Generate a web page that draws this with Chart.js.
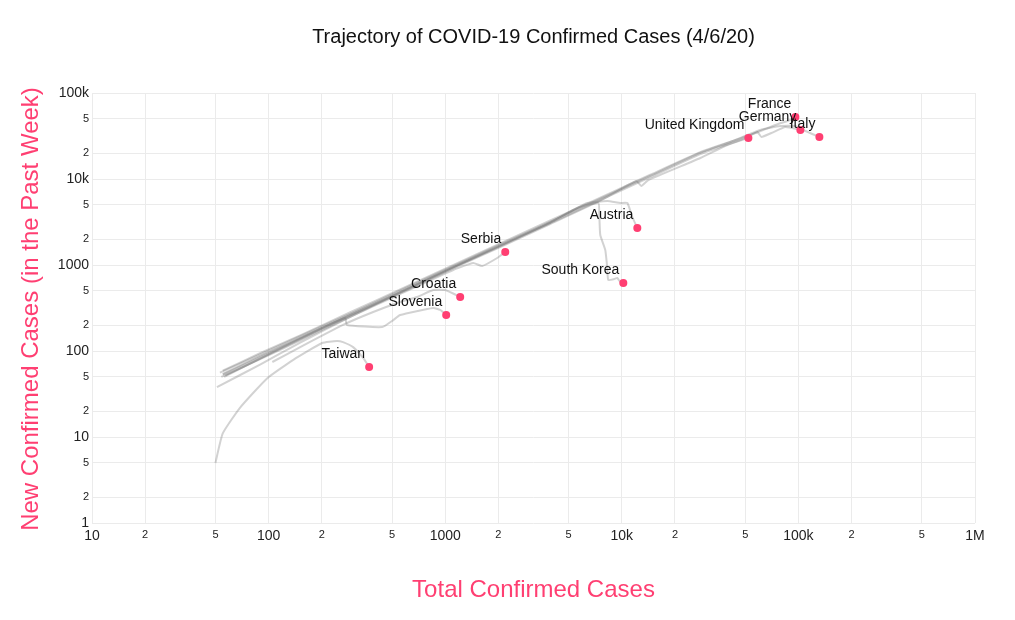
<!DOCTYPE html>
<html>
<head>
<meta charset="utf-8">
<script src="https://cdn.jsdelivr.net/npm/chart.js@4.4.1/dist/chart.umd.min.js"></script>
<style>
  html, body { margin: 0; padding: 0; background: #fff; }
  #wrap { width: 1015px; height: 620px; }
</style>
</head>
<body>
<div id="wrap"><canvas id="c" width="1015" height="620"></canvas></div>
<script>
const chartTitle = 'Trajectory of COVID-19 Confirmed Cases (4/6/20)';
const xAxisTitle = 'Total Confirmed Cases';
const yAxisTitle = 'New Confirmed Cases (in the Past Week)';

const xTicks = [10, 20, 50, 100, 200, 500, 1000, 2000, 5000, 10000, 20000, 50000, 100000, 200000, 500000, 1000000];
const yTicks = [1, 2, 5, 10, 20, 50, 100, 200, 500, 1000, 2000, 5000, 10000, 20000, 50000, 100000];

const countries = ['France', 'Germany', 'Italy', 'United Kingdom', 'Austria', 'Serbia', 'South Korea', 'Croatia', 'Slovenia', 'Taiwan'];

const franceTotal = [55, 90, 151, 290, 556, 1067, 2049, 3934, 7553, 14505, 27850, 53460, 74100, 90100, 96160];
const franceNew   = [59, 95, 152, 282, 520, 960, 1780, 3300, 6050, 11200, 20500, 32480, 42460, 48530, 52600];

const germanyTotal = [57, 92, 151, 290, 556, 1067, 2049, 3934, 7553, 14505, 27850, 46930, 58590, 61720, 70300, 84400, 102600];
const germanyNew   = [52, 84, 140, 262, 480, 900, 1650, 3080, 5700, 10500, 19500, 28410, 35200, 30790, 34260, 40240, 37140];

const italyTotal = [53, 88, 150, 290, 556, 1067, 2049, 3934, 7553, 14505, 27850, 41180, 60910, 79070, 96160, 109600, 131500];
const italyNew   = [56, 90, 148, 272, 505, 935, 1730, 3200, 5900, 10900, 20200, 26930, 37140, 41330, 41330, 36150, 30790];

const ukTotal = [56, 90, 151, 290, 556, 1067, 2049, 3934, 7553, 12080, 12900, 14130, 27850, 39600, 52080];
const ukNew   = [50, 82, 137, 258, 470, 880, 1620, 3000, 5600, 9480, 8290, 9740, 17550, 24850, 29970];

const austriaTotal = [55, 89, 151, 290, 556, 1067, 2049, 3934, 5312, 6375, 8274, 9806, 10750, 11470, 12240];
const austriaNew   = [54, 87, 143, 265, 490, 910, 1690, 3130, 4361, 5260, 5548, 5260, 5260, 3615, 2693];

const serbiaTotal = [54, 89, 150, 290, 556, 1110, 1441, 1620, 1970, 2188];
const serbiaNew   = [50, 80, 132, 250, 460, 875, 1055, 974, 1206, 1416];

const koreaTotal = [51, 90, 151, 290, 556, 1067, 2049, 3934, 5597, 7362, 7457, 7553, 8062, 8274, 8383, 9069, 9430, 9806, 10200];
const koreaNew   = [38, 70, 125, 250, 480, 900, 1680, 3100, 4601, 5260, 3814, 2233, 1494, 923, 669, 687, 706, 634, 618];

const croatiaTotal = [105, 151, 264, 391, 556, 694, 855, 1000, 1216];
const croatiaNew   = [74.5, 111, 201, 284, 371, 425, 512, 512, 425];

const sloveniaTotal = [55, 90, 151, 271, 278, 440, 508, 556, 855, 937, 1013];
const sloveniaNew   = [53, 86, 140, 242, 201, 190, 229, 262, 316, 300, 262];

const taiwanTotal = [50, 55, 69, 98, 138, 201, 244, 264, 301, 343, 371];
const taiwanNew   = [5, 11, 22, 48, 79, 124, 131, 127, 111, 83, 65];

const seriesTotals = [franceTotal, germanyTotal, italyTotal, ukTotal, austriaTotal, serbiaTotal, koreaTotal, croatiaTotal, sloveniaTotal, taiwanTotal];
const seriesNew = [franceNew, germanyNew, italyNew, ukNew, austriaNew, serbiaNew, koreaNew, croatiaNew, sloveniaNew, taiwanNew];

const PINK = '#ff3f72';
const FONT = '"Liberation Sans", Arial, Helvetica, sans-serif';

function isMajor(v) {
  const l = Math.log10(v);
  return Math.abs(l - Math.round(l)) < 1e-9;
}
function tickLabel(v) {
  if (!isMajor(v)) {
    const p = Math.pow(10, Math.floor(Math.log10(v) + 1e-9));
    return String(Math.round(v / p));
  }
  if (v >= 1e6) return (v / 1e6) + 'M';
  if (v >= 1e4) return (v / 1e3) + 'k';
  return String(v);
}
function tickFont(ctx) {
  const v = ctx.tick ? ctx.tick.value : 10;
  return isMajor(v) ? { family: FONT, size: 14 } : { family: FONT, size: 11 };
}

const lineDatasets = countries.map((name, i) => ({
  type: 'line',
  label: name,
  data: seriesTotals[i].map((t, j) => ({ x: t, y: seriesNew[i][j] })),
  borderColor: 'rgba(105,105,105,0.3)',
  borderWidth: 2,
  pointRadius: 0,
  tension: 0.15,
  fill: false,
  order: 1
}));

const endDataset = {
  type: 'scatter',
  label: 'latest',
  data: countries.map((name, i) => ({
    x: seriesTotals[i][seriesTotals[i].length - 1],
    y: seriesNew[i][seriesNew[i].length - 1]
  })),
  backgroundColor: PINK,
  borderColor: PINK,
  borderWidth: 0,
  pointRadius: 4,
  order: 0
};

const labelPlugin = {
  id: 'labelsAndTitles',
  afterDatasetsDraw(chart) {
    const ctx = chart.ctx;
    const meta = chart.getDatasetMeta(chart.data.datasets.length - 1);
    ctx.save();
    ctx.font = '14px ' + FONT;
    ctx.fillStyle = '#111';
    ctx.textAlign = 'right';
    ctx.textBaseline = 'middle';
    meta.data.forEach((pt, i) => {
      ctx.fillText(countries[i], pt.x - 4, pt.y - 13);
    });
    ctx.restore();
  },
  afterDraw(chart) {
    const ctx = chart.ctx;
    const area = chart.chartArea;
    const cx = (area.left + area.right) / 2;
    ctx.save();
    ctx.textAlign = 'center';
    ctx.textBaseline = 'middle';
    ctx.fillStyle = '#111';
    ctx.font = '20px ' + FONT;
    ctx.fillText(chartTitle, cx, 37);
    ctx.fillStyle = PINK;
    ctx.font = '24px ' + FONT;
    ctx.fillText(xAxisTitle, cx, 590);
    ctx.translate(31, 309);
    ctx.rotate(-Math.PI / 2);
    ctx.fillText(yAxisTitle, 0, 0);
    ctx.restore();
  }
};

new Chart(document.getElementById('c'), {
  data: { datasets: [...lineDatasets, endDataset] },
  options: {
    responsive: false,
    animation: false,
    layout: { padding: { top: 93, right: 40, bottom: 0, left: 0 } },
    plugins: { legend: { display: false }, tooltip: { enabled: false }, title: { display: false } },
    scales: {
      x: {
        type: 'logarithmic',
        min: 10, max: 1000000,
        afterBuildTicks: (scale) => { scale.ticks = xTicks.map(v => ({ value: v, major: isMajor(v) })); },
        afterFit: (scale) => { scale.height = 97; },
        grid: { color: '#ebebeb', lineWidth: 1, drawTicks: false },
        border: { display: false },
        ticks: {
          autoSkip: false, maxRotation: 0, minRotation: 0, padding: 5,
          color: '#222',
          font: tickFont,
          callback: (v) => tickLabel(v)
        }
      },
      y: {
        type: 'logarithmic',
        min: 1, max: 100000,
        afterBuildTicks: (scale) => { scale.ticks = yTicks.map(v => ({ value: v, major: isMajor(v) })); },
        afterFit: (scale) => { scale.width = 92; },
        grid: { color: '#ebebeb', lineWidth: 1, drawTicks: false },
        border: { display: false },
        ticks: {
          autoSkip: false, padding: 3,
          color: '#222',
          font: tickFont,
          callback: (v) => tickLabel(v)
        }
      }
    }
  },
  plugins: [labelPlugin]
});
</script>
</body>
</html>
